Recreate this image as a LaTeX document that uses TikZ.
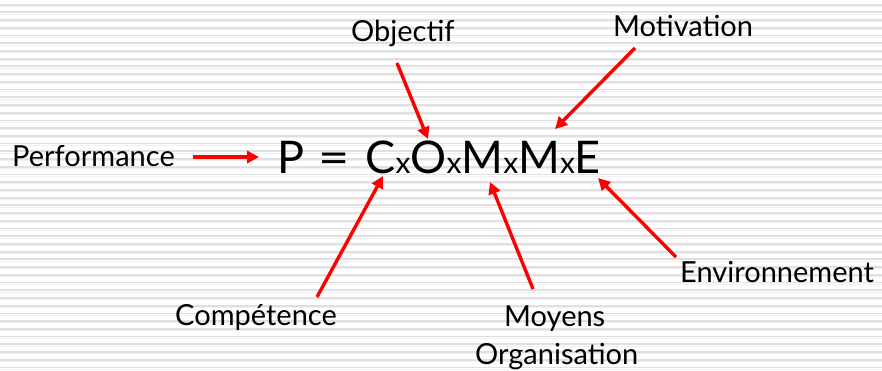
\documentclass[tikz,border=0pt]{standalone}
\usepackage{fontspec}
\usepackage{graphicx}
\setmainfont{Lato}
\usetikzlibrary{arrows.meta}
\tikzset{
  lbl/.style={inner sep=0pt, anchor=base west, font=\fontsize{29}{34}\selectfont},
  arr/.style={draw=red, line width=3.4pt, -{Triangle[length=12pt,width=12pt]}},
  stripe/.style={draw=black!12, line width=1.8pt},
  stripe2/.style={draw=black!6, line width=1pt}
}
\newcommand{\sx}{{\fontsize{30}{30}\selectfont x}}
\begin{document}
\begin{tikzpicture}[x=1pt,y=-1pt]
\useasboundingbox (0,0) rectangle (882,370);
\fill[white] (0,0) rectangle (882,370);
\foreach \i in {0,...,48} {
  \draw[stripe] (0,{4.6+7.72*\i}) -- (882,{4.6+7.72*\i});
  \draw[stripe2] (0,{6.4+7.72*\i}) -- (882,{6.4+7.72*\i});
}
% labels
\node[lbl] (perf) at (12,166) {Performance};
\node[lbl] (obj) at (351,41) {Objectif};
\node[lbl] (mot) at (613,36) {Motivation};
\node[lbl] (comp) at (175,325) {Compétence};
\node[lbl] (moy) at (504,326) {Moyens};
\node[lbl] (org) at (475,364) {Organisation};
\node[lbl] (env) at (680,282) {Environnement};
% equation
\node[inner sep=0pt, anchor=base west, font=\fontsize{45}{50}\selectfont] (eq) at (277,173)
  {P\hspace{14pt}\scalebox{1.2}[1]{=}\hspace{16pt}C\sx O\sx M\sx M\sx E};
% arrow ends
\coordinate (perfT) at (193,157); \coordinate (perfH) at (259,157);
\coordinate (objT) at (397,63);   \coordinate (objH) at (428,139);
\coordinate (motT) at (635,48);   \coordinate (motH) at (555,129);
\coordinate (compT) at (317,297); \coordinate (compH) at (383,176);
\coordinate (moyT) at (533,289);  \coordinate (moyH) at (490,182);
\coordinate (envT) at (676,257);  \coordinate (envH) at (598,178);
\draw[arr] (perfT) -- (perfH);
\draw[arr] (objT) -- (objH);
\draw[arr] (motT) -- (motH);
\draw[arr] (compT) -- (compH);
\draw[arr] (moyT) -- (moyH);
\draw[arr] (envT) -- (envH);
\end{tikzpicture}
\end{document}
